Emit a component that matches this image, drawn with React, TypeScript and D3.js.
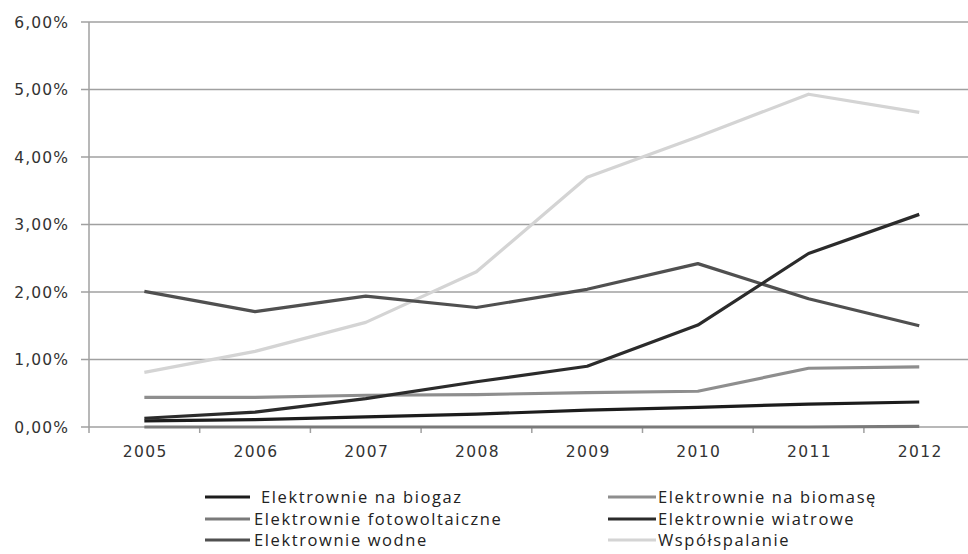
import React from "react";
import * as d3 from "d3";

const years = ["2005", "2006", "2007", "2008", "2009", "2010", "2011", "2012"];
const yTicks = [0, 1, 2, 3, 4, 5, 6];
const seriesNames = [
  "Elektrownie na biogaz",
  "Elektrownie na biomasę",
  "Elektrownie fotowoltaiczne",
  "Elektrownie wiatrowe",
  "Elektrownie wodne",
  "Współspalanie",
];
const biogaz = [0.09, 0.11, 0.15, 0.19, 0.25, 0.29, 0.34, 0.37];
const biomasa = [0.44, 0.44, 0.47, 0.48, 0.51, 0.53, 0.87, 0.89];
const fotowoltaiczne = [0, 0, 0, 0, 0, 0, 0, 0.01];
const wiatrowe = [0.13, 0.22, 0.42, 0.67, 0.9, 1.51, 2.57, 3.15];
const wodne = [2.01, 1.71, 1.94, 1.77, 2.04, 2.42, 1.9, 1.5];
const wspolspalanie = [0.81, 1.12, 1.55, 2.3, 3.7, 4.3, 4.93, 4.66];
const seriesValues = [biogaz, biomasa, fotowoltaiczne, wiatrowe, wodne, wspolspalanie];
const seriesColors = ["#1c1c1c", "#8e8e8e", "#7a7a7a", "#2b2b2b", "#505050", "#d4d4d4"];
// drawing order: light first so darker lines stay visible like the reference
const drawOrder = [5, 4, 1, 2, 0, 3];

export default function App() {
  const left = 89;
  const top = 22;
  const bottom = 427;
  const bandW = 110.7;
  const x = d3
    .scaleBand<string>()
    .domain(years)
    .range([left, left + bandW * years.length]);
  const y = d3.scaleLinear().domain([0, 6]).range([bottom, top]);
  const line = d3
    .line<number>()
    .x((_, i) => (x(years[i]) as number) + x.bandwidth() / 2)
    .y((d) => y(d));
  const fmt = (v: number) => v.toFixed(2).replace(".", ",") + "%";

  const legendRows = [497, 519, 540];
  const legendCols = [
    { lx1: 205, lx2: 250, tx: 254 },
    { lx1: 608, lx2: 656, tx: 658 },
  ];

  return (
    <svg
      width={968}
      height={554}
      style={{ position: "absolute", left: 0, top: 0, background: "#fff" }}
    >
      <rect x={0} y={0} width={968} height={554} fill="#fff" />
      {yTicks.map((t) => (
        <g key={t}>
          <line x1={81} x2={968} y1={y(t)} y2={y(t)} stroke="#a0a0a0" strokeWidth={1.5} />
          <text
            x={69}
            y={y(t)}
            dy="0.36em"
            textAnchor="end"
            fontFamily="DejaVu Sans, Verdana, sans-serif"
            fontSize={15.5}
            letterSpacing={1.1}
            fill="#333"
          >
            {fmt(t)}
          </text>
        </g>
      ))}
      <line x1={left} x2={left} y1={top} y2={bottom + 6} stroke="#a0a0a0" strokeWidth={1.5} />
      {years.map((yr) => (
        <g key={yr}>
          <line
            x1={(x(yr) as number) + bandW}
            x2={(x(yr) as number) + bandW}
            y1={bottom}
            y2={bottom + 6}
            stroke="#a0a0a0"
            strokeWidth={1.5}
          />
          <text
            x={(x(yr) as number) + x.bandwidth() / 2 + 1}
            y={457}
            textAnchor="middle"
            fontFamily="DejaVu Sans, Verdana, sans-serif"
            fontSize={15.5}
            letterSpacing={1.4}
            fill="#333"
          >
            {yr}
          </text>
        </g>
      ))}
      {drawOrder.map((si) => (
        <path
          key={si}
          d={line(seriesValues[si]) as string}
          fill="none"
          stroke={seriesColors[si]}
          strokeWidth={3.2}
          strokeLinejoin="round"
        />
      ))}
      {seriesNames.map((name, i) => {
        const col = legendCols[i % 2];
        const ry = legendRows[Math.floor(i / 2)];
        return (
          <g key={name}>
            <line x1={col.lx1} x2={col.lx2} y1={ry} y2={ry} stroke={seriesColors[i]} strokeWidth={3} />
            <text
              x={col.tx + (i === 0 ? 7 : 0)}
              y={ry}
              dy="0.34em"
              fontFamily="Open Sans, sans-serif"
              fontSize={16.5}
              letterSpacing={1.6}
              fill="#222"
            >
              {name}
            </text>
          </g>
        );
      })}
    </svg>
  );
}
